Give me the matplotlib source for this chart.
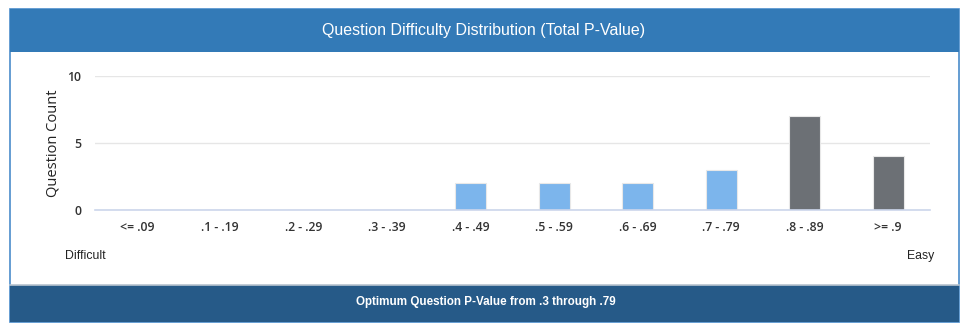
import matplotlib.pyplot as plt
from matplotlib.patches import Rectangle

# chart data
categories = ["<= .09", ".1 - .19", ".2 - .29", ".3 - .39", ".4 - .49",
              ".5 - .59", ".6 - .69", ".7 - .79", ".8 - .89", ">= .9"]
counts = [0, 0, 0, 0, 2, 2, 2, 3, 7, 4]
bar_colors = ["#7cb5ec"] * 8 + ["#6c7075"] * 2
y_ticks = [0, 5, 10]

W, H = 970, 332
fig = plt.figure(figsize=(W / 100, H / 100), dpi=100)
fig.patch.set_facecolor("white")

def px(x, y, w, h):
    # pixel box (top-left origin) -> figure fraction
    return [x / W, 1 - (y + h) / H, w / W, h / H]

# panel frame, header and footer
bg = fig.add_axes([0, 0, 1, 1])
bg.set_xlim(0, W)
bg.set_ylim(H, 0)
bg.axis("off")
bg.add_patch(Rectangle((10, 9), 949, 313, facecolor="white", edgecolor="#4a8ccb", lw=1.2))
bg.add_patch(Rectangle((10, 9), 949, 43, facecolor="#337ab7", edgecolor="none"))
bg.add_patch(Rectangle((10, 285), 949, 37, facecolor="#265a88", edgecolor="none"))
bg.plot([10, 959], [284.5, 284.5], color="#b8c4d0", lw=1.2)

font = ["Liberation Sans Narrow", "Liberation Sans", "DejaVu Sans"]
bg.text(484, 31, "Question Difficulty Distribution (Total P-Value)", color="white",
        fontsize=11.5, ha="center", va="center", family=font)
bg.text(486, 302, "Optimum Question P-Value from .3 through .79", color="white",
        fontsize=8.4, ha="center", va="center", family=font, weight="bold")
bg.text(65, 256, "Difficult", fontsize=8.8, ha="left", va="center", color="#222222",
        family=["Liberation Sans", "DejaVu Sans"])
bg.text(934, 256, "Easy", fontsize=8.8, ha="right", va="center", color="#222222",
        family=["Liberation Sans", "DejaVu Sans"])

# bar chart
ax = fig.add_axes(px(95, 76, 835, 134))
x = range(len(categories))
ax.bar(x, counts, width=0.37, color=bar_colors, edgecolor="#e8e8e8", linewidth=0.8, zorder=3)
ax.set_xlim(-0.5, len(categories) - 0.5)
ax.set_ylim(0, 10)
ax.set_yticks(y_ticks)
ax.set_xticks(list(x))
ax.set_xticklabels(categories, fontsize=8.8, color="#333333",
                   family=["Open Sans", "DejaVu Sans"], weight="semibold")
for t in ax.get_yticklabels():
    t.set_family(["Open Sans", "DejaVu Sans"])
    t.set_weight("semibold")
ax.tick_params(axis="y", labelsize=8.8, labelcolor="#333333", length=0, pad=10)
ax.tick_params(axis="x", length=0, pad=8)
ax.grid(axis="y", color="#e6e6e6", lw=1, zorder=0)
for s in ["top", "right", "left"]:
    ax.spines[s].set_visible(False)
ax.spines["bottom"].set_color("#ccd6eb")
ax.spines["bottom"].set_linewidth(1.2)
ax.spines["bottom"].set_zorder(4)
ax.set_ylabel("Question Count", fontsize=10.5, color="#222222", labelpad=5,
              family=["Open Sans", "DejaVu Sans"])

fig.savefig("out.png", dpi=100)
